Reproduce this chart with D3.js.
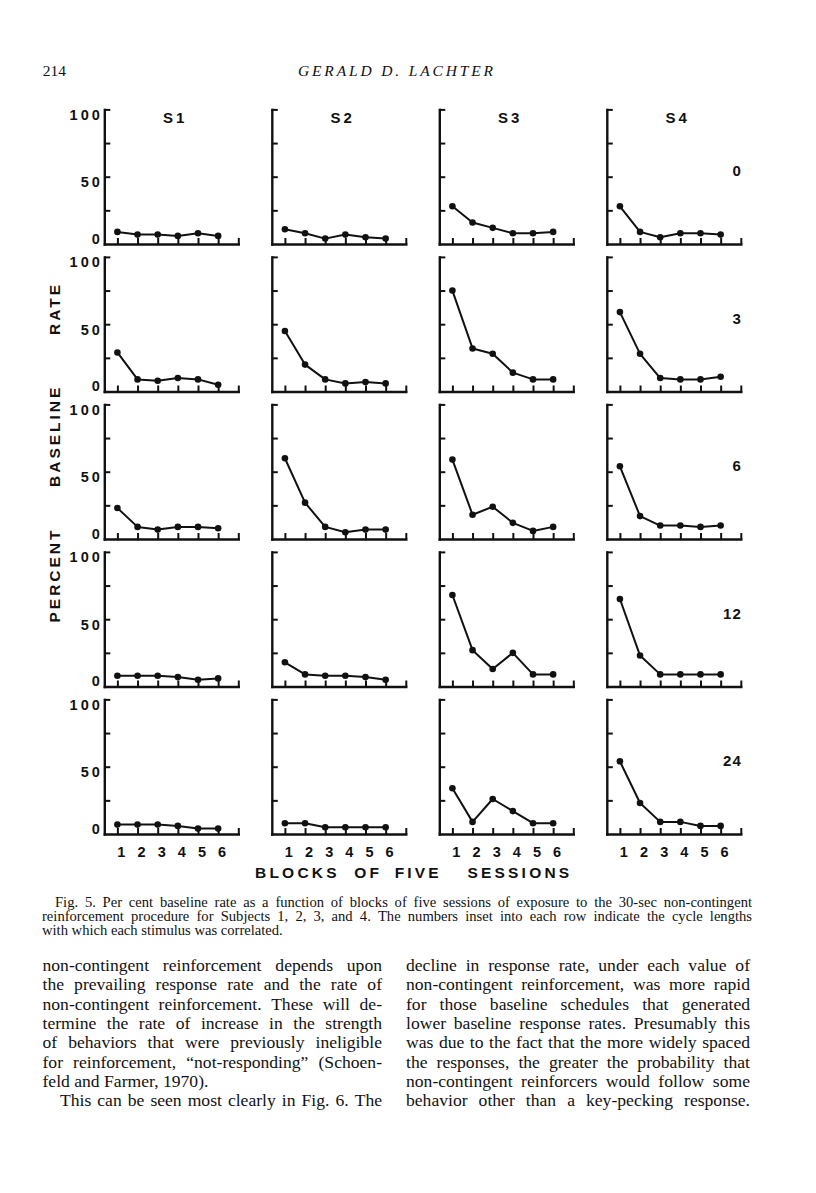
<!DOCTYPE html>
<html><head><meta charset="utf-8">
<script src="https://cdn.jsdelivr.net/npm/d3@7"></script>
<style>body{margin:0;background:#fff}svg{display:block}</style>
</head><body>
<script>
// ---- data ----
const blocks = [1, 2, 3, 4, 5, 6];
const subjects = ["S1", "S2", "S3", "S4"];
const cycles = ["0", "3", "6", "12", "24"];
const yTickValues = [25, 50, 75, 100];
const yTickLabels = [0, 50, 100];
// rows = cycle length 0, 3, 6, 12, 24 ; values = percent baseline rate per block
const S1 = [[9, 7, 7, 6, 8, 6], [29, 9, 8, 10, 9, 5], [23, 9, 7, 9, 9, 8], [8, 8, 8, 7, 5, 6], [7, 7, 7, 6, 4, 4]];
const S2 = [[11, 8, 4, 7, 5, 4], [45, 20, 9, 6, 7, 6], [60, 27, 9, 5, 7, 7], [18, 9, 8, 8, 7, 5], [8, 8, 5, 5, 5, 5]];
const S3 = [[28, 16, 12, 8, 8, 9], [75, 32, 28, 14, 9, 9], [59, 18, 24, 12, 6, 9], [68, 27, 13, 25, 9, 9], [34, 9, 26, 17, 8, 8]];
const S4 = [[28, 9, 5, 8, 8, 7], [59, 28, 10, 9, 9, 11], [54, 17, 10, 10, 9, 10], [65, 23, 9, 9, 9, 9], [54, 23, 9, 9, 6, 6]];
const yTitleWords = ["PERCENT", "BASELINE", "RATE"];
const xTitleWords = ["BLOCKS", "OF", "FIVE", "SESSIONS"];

const pageNumber = "214";
const runningHead = "GERALD D. LACHTER";
const captionLines = [
  "Fig. 5. Per cent baseline rate as a function of blocks of five sessions of exposure to the 30-sec non-contingent",
  "reinforcement procedure for Subjects 1, 2, 3, and 4. The numbers inset into each row indicate the cycle lengths",
  "with which each stimulus was correlated."
];
const leftColumn = [
  "non-contingent reinforcement depends upon",
  "the prevailing response rate and the rate of",
  "non-contingent reinforcement. These will de-",
  "termine the rate of increase in the strength",
  "of behaviors that were previously ineligible",
  "for reinforcement, \u201cnot-responding\u201d (Schoen-",
  "feld and Farmer, 1970).",
  "This can be seen most clearly in Fig. 6. The"
];
const rightColumn = [
  "decline in response rate, under each value of",
  "non-contingent reinforcement, was more rapid",
  "for those baseline schedules that generated",
  "lower baseline response rates. Presumably this",
  "was due to the fact that the more widely spaced",
  "the responses, the greater the probability that",
  "non-contingent reinforcers would follow some",
  "behavior other than a key-pecking response."
];

const series = [S1, S2, S3, S4];

// ---- layout ----
const W = 816, H = 1193;
const svg = d3.select("body").append("svg").attr("width", W).attr("height", H);
svg.append("rect").attr("width", W).attr("height", H).attr("fill", "#fff");

const colLeft = c => 104.3 + c * 167.5;
const rowBottom = r => 244 + r * 147.5;
const panelH = 134.6, panelW = 134;
const LAB = "'Liberation Sans', Arial, sans-serif";
const SERIF = "'Liberation Serif', 'Times New Roman', serif";
const ink = "#111";

cycles.forEach((cyc, r) => {
  subjects.forEach((s, c) => {
    const left = colLeft(c), bottom = rowBottom(r);
    const x = d3.scaleLinear().domain([0.35, 7]).range([left, left + panelW]);
    const y = d3.scaleLinear().domain([0, 100]).range([bottom, bottom - panelH]);
    const g = svg.append("g");

    const ya = g.append("g").attr("transform", `translate(${left},0)`)
      .call(d3.axisRight(y).tickValues(yTickValues).tickSize(6).tickSizeOuter(0).tickFormat(""));
    const xa = g.append("g").attr("transform", `translate(0,${bottom})`)
      .call(d3.axisTop(x).tickValues([...blocks, 7]).tickSize(6).tickSizeOuter(0).tickFormat(""));
    [ya, xa].forEach(a => {
      a.select(".domain").attr("stroke", ink).attr("stroke-width", 2.4).attr("stroke-linecap", "square");
      a.selectAll(".tick line").attr("stroke", ink).attr("stroke-width", 2);
    });

    const vals = series[c][r];
    const line = d3.line().x((d, i) => x(blocks[i])).y(d => y(d));
    g.append("path").datum(vals).attr("d", line).attr("fill", "none")
      .attr("stroke", ink).attr("stroke-width", 2).attr("stroke-linejoin", "round");
    g.selectAll("circle").data(vals).join("circle")
      .attr("cx", (d, i) => x(blocks[i])).attr("cy", d => y(d)).attr("r", 3.3).attr("fill", ink);

    if (c === 0) {
      g.selectAll("text.yl").data(yTickLabels).join("text").attr("class", "yl")
        .attr("x", left - 1.5).attr("y", d => d === 0 ? y(d) - 0.5 : y(d) + 10.5)
        .attr("text-anchor", "end").attr("font-family", LAB).attr("font-weight", "bold")
        .attr("font-size", 14.5).attr("letter-spacing", 3).attr("fill", ink).text(d => d);
    }
    if (r === 0) {
      g.append("text").attr("x", left + 71).attr("y", bottom - panelH + 13.4)
        .attr("text-anchor", "middle").attr("font-family", LAB).attr("font-weight", "bold")
        .attr("font-size", 15).attr("letter-spacing", 3).attr("fill", ink).text(s);
    }
    if (c === 3) {
      g.append("text").attr("x", left + panelW + 1).attr("y", y(50) - 0.5)
        .attr("text-anchor", "end").attr("font-family", LAB).attr("font-weight", "bold")
        .attr("font-size", 15).attr("letter-spacing", 1).attr("fill", ink).text(cyc);
    }
    if (r === cycles.length - 1) {
      g.selectAll("text.xl").data(blocks).join("text").attr("class", "xl")
        .attr("x", d => x(d) + 4).attr("y", bottom + 23)
        .attr("text-anchor", "middle").attr("font-family", LAB).attr("font-weight", "bold")
        .attr("font-size", 14.5).attr("fill", ink).text(d => d);
    }
  });
});

// axis titles (uniform letter spacing, each word centred on its place in the original)
const yWordCenter = [573.5, 434.3, 307];
yTitleWords.forEach((w, i) => {
  svg.append("text").attr("transform", `translate(60,${yWordCenter[i] + 1.5}) rotate(-90)`)
    .attr("text-anchor", "middle")
    .attr("font-family", LAB).attr("font-weight", "bold").attr("font-size", 15.5)
    .attr("letter-spacing", 3).attr("fill", ink).text(w);
});
const xWordCenter = [295.8, 366.7, 416.7, 518.3];
xTitleWords.forEach((w, i) => {
  svg.append("text").attr("x", xWordCenter[i] + 1.6).attr("y", 877.5)
    .attr("text-anchor", "middle")
    .attr("font-family", LAB).attr("font-weight", "bold").attr("font-size", 15.5)
    .attr("letter-spacing", 3.2).attr("fill", ink).text(w);
});

// page header
svg.append("text").attr("x", 42.7).attr("y", 76).attr("font-family", SERIF).attr("font-size", 15.5)
  .attr("fill", ink).text(pageNumber);
svg.append("text").attr("x", 298).attr("y", 76).attr("font-family", SERIF).attr("font-style", "italic")
  .attr("font-size", 15.5).attr("textLength", 195).attr("lengthAdjust", "spacing").attr("fill", ink).text(runningHead);

// justified text helper
function justify(str, x0, x1, yb, size) {
  const t = svg.append("text").attr("y", yb).attr("font-family", SERIF).attr("font-size", size).attr("fill", ink);
  const words = str.split(" ");
  const tmp = svg.append("text").attr("font-family", SERIF).attr("font-size", size);
  const widths = words.map(w => { tmp.text(w); return tmp.node().getComputedTextLength(); });
  tmp.remove();
  const total = d3.sum(widths);
  let gap = (x1 - x0 - total) / (words.length - 1);
  if (gap < size * 0.18) {
    t.attr("x", x0).attr("textLength", x1 - x0).attr("lengthAdjust", "spacingAndGlyphs").text(str);
    return;
  }
  let cx = x0;
  words.forEach((w, i) => {
    t.append("tspan").attr("x", cx).text(w);
    cx += widths[i] + gap;
  });
}
function plain(str, x0, yb, size) {
  svg.append("text").attr("x", x0).attr("y", yb).attr("font-family", SERIF).attr("font-size", size)
    .attr("fill", ink).text(str);
}

// caption
const cs = 14.6;
justify(captionLines[0], 55, 752, 906.5, cs);
justify(captionLines[1], 42, 752, 920.5, cs);
plain(captionLines[2], 42, 934.5, cs);

// body columns
const lh = 19.33, b0 = 971, bs = 17.6;
leftColumn.forEach((l, i) => {
  const yb = b0 + i * lh;
  if (i === 6) plain(l, 42.5, yb, bs);
  else if (i === 7) justify(l, 60, 382, yb, bs);
  else justify(l, 42.5, 382, yb, bs);
});
rightColumn.forEach((l, i) => justify(l, 406, 750, b0 + i * lh, bs));
</script>
</body></html>
